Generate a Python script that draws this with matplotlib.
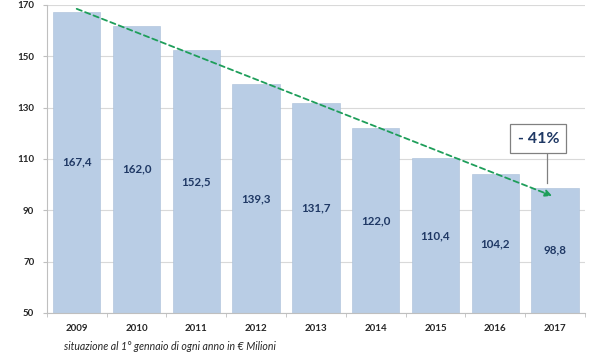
import matplotlib
matplotlib.use("Agg")
import matplotlib.pyplot as plt
import numpy as np

plt.rcParams['font.family'] = ['Lato', 'DejaVu Sans']

years = ['2009', '2010', '2011', '2012', '2013', '2014', '2015', '2016', '2017']
values = [167.4, 162.0, 152.5, 139.3, 131.7, 122.0, 110.4, 104.2, 98.8]
labels = ['167,4', '162,0', '152,5', '139,3', '131,7', '122,0', '110,4', '104,2', '98,8']
yticks = [50, 70, 90, 110, 130, 150, 170]
trend_start = 168.5
trend_end = 95.6
callout = '- 41%'

fig = plt.figure(figsize=(6, 3.56), dpi=100)
ax = fig.add_axes([0.078, 0.121, 0.897, 0.865])

x = np.arange(len(years))
ymin = 50
ax.bar(x, np.array(values) - ymin, bottom=ymin, width=0.79, color='#B9CDE5',
       edgecolor='#A9BFD9', linewidth=0.4, zorder=2)

for xi, v, lab in zip(x, values, labels):
    ax.text(xi, (v + ymin) / 2, lab, ha='center', va='center', fontsize=8.3,
            fontweight='bold', color='#1F3864', zorder=4)

ax.set_xlim(-0.5, len(years) - 0.5)
ax.set_ylim(50, 170)
ax.set_yticks(yticks)
ax.set_yticklabels([str(t) for t in yticks], fontsize=7, fontweight='bold', color='#262626')
ax.set_xticks(x)
ax.set_xticklabels(years, fontsize=7, fontweight='bold', color='#262626')
ax.set_xticks(np.arange(len(years) + 1) - 0.5, minor=True)
ax.tick_params(axis='x', which='major', length=0, pad=8)
ax.tick_params(axis='x', which='minor', length=3, color='#BFBFBF', direction='out')
ax.tick_params(axis='y', length=3, color='#BFBFBF', pad=6)

ax.grid(axis='y', color='#D9D9D9', linewidth=0.8, zorder=0)
ax.set_axisbelow(True)
for s in ['top', 'right']:
    ax.spines[s].set_visible(False)
ax.spines['left'].set_color('#BFBFBF')
ax.spines['bottom'].set_color('#BFBFBF')

# trend arrow
ax.annotate('', xy=(len(years) - 1.05, trend_end), xytext=(0, trend_start),
            arrowprops=dict(arrowstyle='-|>', color='#1E9E5A', lw=1.3,
                            linestyle=(0, (3, 2)), mutation_scale=10,
                            shrinkA=0, shrinkB=0), zorder=5)

# callout box
ax.plot([7.86, 7.86], [100.6, 113], color='#808080', lw=0.9, zorder=5)
ax.text(7.72, 117.9, callout, ha='center', va='center', fontsize=11.5,
        fontweight='bold', color='#1F3864', zorder=6,
        bbox=dict(boxstyle='square,pad=0.45', fc='white', ec='#808080', lw=0.9))

fig.text(0.107, 0.026, 'situazione al 1° gennaio di ogni anno in € Milioni',
         fontsize=7.6, style='italic', color='#262626', ha='left', va='center')

fig.savefig('out.png', dpi=100)
